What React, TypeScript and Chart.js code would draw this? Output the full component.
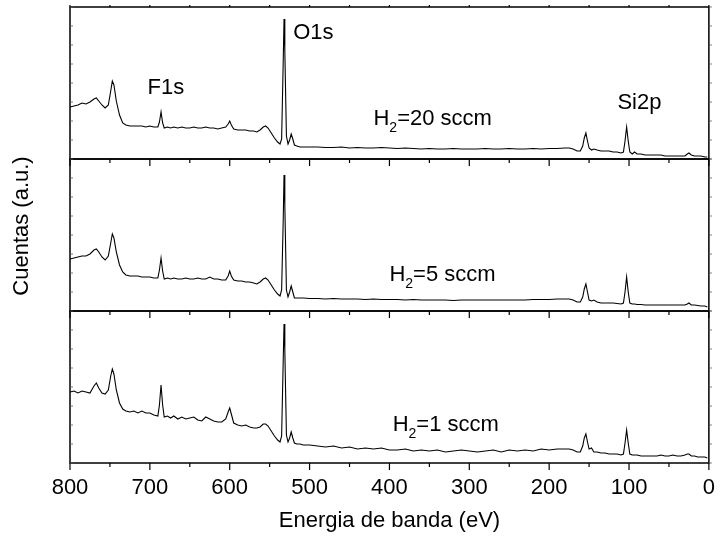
import React, { useEffect, useRef } from "react";
import { Chart, registerables } from "chart.js";

Chart.register(...registerables);

// Binding energy (eV), shared by the three spectra
const energy: number[] = [
  800, 795, 790, 785, 780, 775, 770, 767, 764, 760,
  756, 752, 749, 747, 745, 742, 738, 734, 730, 725,
  720, 715, 710, 705, 700,
  695, 690, 688, 686, 684, 682, 678, 674, 670, 665,
  660, 655, 650, 645, 640, 635, 630, 625, 620, 615,
  610, 605, 602, 600, 598, 595, 590, 585, 580, 575,
  570, 566, 562, 558, 555, 552, 548, 544, 540, 537,
  535, 533, 532, 531, 529, 527, 525, 523, 521, 519,
  516, 512, 508, 500,
  490, 480, 470, 460, 450, 440, 430, 420, 410, 400,
  390, 380, 370, 360, 350, 340, 330, 320, 310, 300,
  290, 280, 270, 260, 250, 240, 230, 220, 210, 200,
  190, 180, 175, 170, 165, 161, 158, 156, 154, 152,
  150, 147, 144, 140, 135, 130, 125, 120, 115, 110,
  107, 105, 103, 101, 99, 96, 93, 90, 85, 80,
  75, 70, 65, 60, 55, 50, 45, 40, 35, 30,
  27, 25, 22, 18, 14, 10, 5, 2,
];

// Counts (a.u.) for H2 = 20 sccm (top panel)
const counts20: number[] = [
  52, 53, 54, 56, 55, 57, 60, 61, 58, 54,
  51, 54, 68, 78, 74, 58, 44, 36, 34, 33,
  33, 33, 33, 32, 33,
  32, 32, 37, 47, 36, 31, 32, 31, 32, 31,
  32, 31, 31, 32, 31, 31, 32, 31, 31, 30,
  31, 32, 35, 38, 34, 30, 29, 29, 29, 28,
  28, 27, 29, 32, 33, 31, 26, 21, 17, 15,
  20, 98, 140, 108, 23, 15, 19, 25, 20, 14,
  13, 12, 12, 12,
  12, 11.5, 11.5, 12, 11, 11.5, 11, 11, 11.5, 11,
  10.5, 11, 10.5, 10, 10.5, 10, 10, 10.5, 10, 10,
  10, 10.5, 10, 10, 10.5, 10, 10, 10.5, 10, 10.5,
  10.5, 11, 11, 10, 8, 8, 13, 21, 26, 18,
  11, 9, 10, 9, 8, 8, 8, 7, 7, 6,
  7, 18, 32, 18, 7, 5, 7, 5, 5, 4,
  4, 4, 4, 4, 3, 3, 3, 3, 3, 3,
  5, 6, 4, 3, 3, 3, 2, 2,
];

// Counts (a.u.) for H2 = 5 sccm (middle panel)
const counts5: number[] = [
  52, 53, 54, 55, 55, 57, 61, 62, 59, 54,
  51, 55, 68, 77, 73, 59, 46, 39, 36, 35,
  35, 35, 34, 34, 34,
  33, 33, 41, 53, 40, 32, 33, 32, 33, 32,
  32, 33, 32, 32, 33, 32, 32, 34, 32, 32,
  31, 31, 35, 40, 35, 31, 30, 30, 29, 29,
  28, 27, 29, 32, 33, 31, 26, 21, 17, 15,
  21, 91, 136, 106, 21, 14, 19, 25, 19, 13,
  13, 13, 13, 12.5,
  12.5, 12, 12.5, 12, 12, 12, 11.5, 12, 11.5, 11.5,
  11.5, 11, 11.5, 11, 11, 11, 11, 10.5, 11, 11,
  11, 11, 11, 11, 11, 11, 11, 11.5, 11.5, 11.5,
  12, 12, 12, 11, 9, 9, 14, 22, 27, 19,
  11, 10, 11, 9, 8, 8, 8, 8, 7.5, 7,
  8, 19, 34, 19, 8, 7, 7, 6.5, 6.5, 6,
  6, 6, 6, 6, 6, 6, 6, 6, 6, 6,
  7, 8, 6, 6, 5.5, 5, 5, 4,
];

// Counts (a.u.) for H2 = 1 sccm (bottom panel)
const counts1: number[] = [
  71, 72, 70, 72, 71, 70, 77, 80, 75, 70,
  69, 73, 87, 94, 89, 73, 60, 54, 52, 51,
  52, 50, 52, 50, 50,
  48, 47, 58, 78, 58, 46, 47, 45, 47, 44,
  46, 44, 45, 46, 43, 42, 46, 44, 42, 41,
  41, 44, 51, 55, 49, 40, 38, 37, 38, 36,
  35, 35, 36, 39, 39, 37, 32, 27, 23, 21,
  27, 103, 139, 113, 28, 21, 25, 31, 25, 20,
  19, 19, 18, 18,
  17, 16, 17, 15, 16, 14, 15, 14, 15, 13,
  13, 14, 12, 13, 12, 13, 11, 12, 13, 12,
  11, 12, 13, 11, 13, 12, 13, 12, 14, 13,
  14, 14, 14, 13, 11, 11, 17, 25, 29, 21,
  14, 15, 11, 11, 10, 10, 9, 9, 9, 8,
  9, 20, 33, 20, 9, 8, 8, 8, 7, 7,
  7, 7, 7, 8, 7, 7, 8, 7, 7, 8,
  9, 9, 7, 7, 6, 6, 6, 5,
];

// x-axis range & ticks
const X_MIN = 0;
const X_MAX = 800;
const X_MAJOR = 100;
const X_MINOR = 50;

// panel axes (top to bottom) and their condition labels
const panelAxes = ["yTop", "yMid", "yBot"];
const sampleLabels = ["=20 sccm", "=5 sccm", "=1 sccm"];
const sampleLabelEnergy = [420, 400, 396];
const sampleLabelValue = [40, 36, 38];

// peak labels (top panel)
const peakLabels = ["F1s", "O1s", "Si2p"];
const peakLabelEnergy = [703, 520.6, 114.5];
const peakLabelValue = [71, 126, 56];

const FONT_FAMILY = '"Liberation Sans", Arial, Helvetica, sans-serif';

const decorPlugin = {
  id: "decor",
  afterDatasetsDraw(chart: any) {
    const { ctx, chartArea } = chart;
    const xs = chart.scales.x;
    ctx.save();
    ctx.strokeStyle = "#000";
    ctx.fillStyle = "#000";

    panelAxes.forEach((id, idx) => {
      const s = chart.scales[id];
      ctx.lineWidth = 1.5;
      ctx.strokeRect(chartArea.left, s.top, chartArea.right - chartArea.left, s.bottom - s.top);
      ctx.lineWidth = 1.2;
      ctx.beginPath();
      for (let v = X_MIN; v <= X_MAX; v += X_MINOR) {
        const px = xs.getPixelForValue(v);
        const len = v % X_MAJOR === 0 ? 7 : 4;
        ctx.moveTo(px, s.bottom);
        ctx.lineTo(px, s.bottom + len);
        if (idx === 0) {
          ctx.moveTo(px, s.top);
          ctx.lineTo(px, s.top - 2);
        }
      }
      ctx.stroke();
      ctx.lineWidth = 0.8;
      ctx.strokeStyle = "#555";
      ctx.beginPath();
      for (const t of s.ticks) {
        const py = s.getPixelForValue(t.value);
        ctx.moveTo(chartArea.left, py);
        ctx.lineTo(chartArea.left + 3, py);
        ctx.moveTo(chartArea.right, py);
        ctx.lineTo(chartArea.right + 3, py);
      }
      ctx.stroke();
      ctx.strokeStyle = "#000";

      // sample condition label: H2=.. sccm with subscript
      const lx = xs.getPixelForValue(sampleLabelEnergy[idx]);
      const ly = s.getPixelForValue(sampleLabelValue[idx]);
      ctx.textBaseline = "middle";
      ctx.textAlign = "left";
      ctx.font = `22px ${FONT_FAMILY}`;
      ctx.fillText("H", lx, ly);
      const wH = ctx.measureText("H").width;
      ctx.font = `14px ${FONT_FAMILY}`;
      ctx.fillText("2", lx + wH, ly + 9);
      const w2 = ctx.measureText("2").width;
      ctx.font = `22px ${FONT_FAMILY}`;
      ctx.fillText(sampleLabels[idx], lx + wH + w2, ly);
    });

    // peak labels in top panel
    const top = chart.scales[panelAxes[0]];
    ctx.font = `22px ${FONT_FAMILY}`;
    ctx.textAlign = "left";
    ctx.textBaseline = "middle";
    peakLabels.forEach((t, i) => {
      ctx.fillText(t, xs.getPixelForValue(peakLabelEnergy[i]), top.getPixelForValue(peakLabelValue[i]));
    });

    // y-axis title
    ctx.save();
    ctx.translate(22, 226);
    ctx.rotate(-Math.PI / 2);
    ctx.textAlign = "center";
    ctx.textBaseline = "middle";
    ctx.fillText("Cuentas (a.u.)", 0, 0);
    ctx.restore();

    ctx.restore();
  },
};

function yAxis() {
  return {
    type: "linear" as const,
    position: "left" as const,
    stack: "panels",
    stackWeight: 1,
    min: 0,
    max: 152,
    ticks: { display: false, stepSize: 19 },
    grid: { display: false, drawTicks: false },
    border: { display: false },
    afterFit(s: any) {
      s.width = 70;
    },
  };
}

export default function App() {
  const ref = useRef<HTMLCanvasElement | null>(null);

  useEffect(() => {
    if (!ref.current) return;
    const series = [counts20, counts5, counts1];
    const chart = new Chart(ref.current, {
      type: "line",
      data: {
        datasets: series.map((vals, i) => ({
          label: sampleLabels[i],
          data: energy.map((e, k) => ({ x: e, y: vals[k] })),
          yAxisID: panelAxes[i],
          borderColor: "#000",
          borderWidth: 1.1,
          pointRadius: 0,
          tension: 0,
          fill: false,
        })),
      },
      options: {
        animation: false,
        responsive: false,
        layout: { padding: { top: 7, right: 7, left: 0, bottom: 0 } },
        plugins: { legend: { display: false }, tooltip: { enabled: false } },
        scales: {
          x: {
            type: "linear",
            position: "bottom",
            min: X_MIN,
            max: X_MAX,
            reverse: true,
            ticks: {
              stepSize: X_MAJOR,
              padding: 12,
              color: "#000",
              autoSkip: false,
              maxRotation: 0,
              font: { family: FONT_FAMILY, size: 22 },
            },
            grid: { display: false, drawTicks: false },
            border: { display: false },
            title: {
              display: true,
              text: "Energia de banda (eV)",
              color: "#000",
              padding: { top: 0, bottom: 2 },
              font: { family: FONT_FAMILY, size: 22 },
            },
            afterFit(s: any) {
              s.height = 73;
            },
          },
          yBot: yAxis(),
          yMid: yAxis(),
          yTop: yAxis(),
        },
      },
      plugins: [decorPlugin],
    });
    return () => chart.destroy();
  }, []);

  return (
    <div style={{ position: "absolute", left: 0, top: 0, width: 727, height: 536, background: "#fff" }}>
      <canvas ref={ref} width={727} height={536} style={{ width: 727, height: 536, display: "block" }} />
    </div>
  );
}
